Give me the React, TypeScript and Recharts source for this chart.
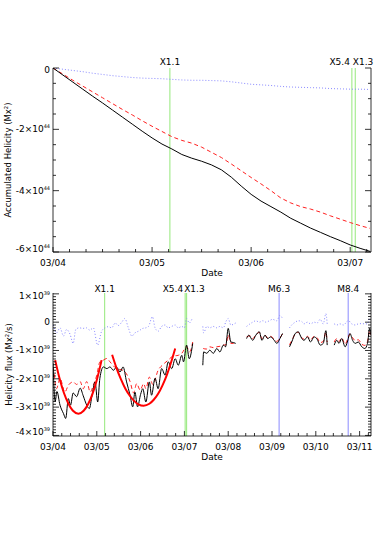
import { LineChart, Line, XAxis, YAxis, ReferenceLine } from 'recharts';

// tick labels
const dateLabels = ['03/04', '03/05', '03/06', '03/07', '03/08', '03/09', '03/10', '03/11'];

// top panel: accumulated helicity, units of 1e44 Mx^2, days since 03/04 00:00
const accDays = [0, 0.1, 0.2, 0.3, 0.4, 0.5, 0.6, 0.7, 0.8, 0.9, 1.0, 1.1, 1.2, 1.3, 1.4, 1.5, 1.6, 1.7, 1.8, 1.9, 2.0, 2.1, 2.2, 2.3, 2.4, 2.5, 2.6, 2.7, 2.8, 2.9, 3.0, 3.1, 3.2];
const accBlack = [0, -0.23, -0.46, -0.69, -0.92, -1.14, -1.37, -1.6, -1.83, -2.06, -2.28, -2.48, -2.64, -2.82, -2.94, -3.04, -3.16, -3.32, -3.56, -3.85, -4.12, -4.34, -4.52, -4.7, -4.9, -5.06, -5.22, -5.36, -5.5, -5.63, -5.77, -5.88, -5.98];
const accRed = [0, -0.2, -0.4, -0.59, -0.78, -0.97, -1.16, -1.35, -1.53, -1.72, -1.9, -2.07, -2.24, -2.36, -2.45, -2.58, -2.75, -2.92, -3.13, -3.35, -3.57, -3.78, -4.0, -4.24, -4.4, -4.52, -4.6, -4.7, -4.82, -4.93, -5.04, -5.14, -5.23];
const accBlue = [0, -0.04, -0.08, -0.12, -0.17, -0.21, -0.25, -0.28, -0.31, -0.33, -0.34, -0.35, -0.37, -0.39, -0.4, -0.4, -0.41, -0.42, -0.45, -0.49, -0.53, -0.55, -0.57, -0.6, -0.62, -0.63, -0.64, -0.65, -0.67, -0.68, -0.69, -0.69, -0.7];

// bottom panel: helicity flux, units of 1e39 Mx^2/s, [day, value]; null = data gap
const fluxBlack: [number, number | null][] = [
  [0.0, -1.45], [0.05, -2.8], [0.09, -2.45], [0.16, -2.93], [0.24, -3.23], [0.29, -3.4], [0.35, -2.7], [0.4, -2.93],
  [0.46, -2.5], [0.54, -2.63], [0.62, -2.33], [0.69, -2.6], [0.77, -2.93], [0.83, -3.05], [0.89, -2.6], [0.96, -2.11],
  [1.02, -2.82], [1.07, -1.98], [1.15, -1.58], [1.23, -1.64], [1.3, -1.58], [1.38, -1.7], [1.45, -1.58], [1.53, -1.76],
  [1.6, -1.58], [1.68, -2.11], [1.76, -2.58], [1.82, -2.99], [1.87, -2.47], [1.93, -2.99], [2.0, -2.55], [2.05, -2.35],
  [2.12, -2.82], [2.2, -2.11], [2.25, -2.58], [2.33, -1.98], [2.4, -2.35], [2.48, -1.64], [2.56, -1.87], [2.63, -1.4],
  [2.71, -1.64], [2.79, -1.29], [2.86, -1.52], [2.94, -1.17], [2.98, -1.4], [3.05, -0.81], [3.11, -1.29], [3.19, -0.75],
  [3.3, null],
  [3.42, -1.52], [3.44, -1.05], [3.51, -1.1], [3.58, -0.99], [3.66, -1.1], [3.74, -0.93], [3.81, -1.05], [3.89, -0.81],
  [3.94, -0.87], [4.0, -0.22], [4.06, -0.7], [4.12, -0.72], [4.17, -0.75],
  [4.3, null],
  [4.42, -0.58], [4.47, -0.46], [4.56, -0.64], [4.63, -0.46], [4.71, -0.34], [4.77, -0.64], [4.84, -0.46], [4.9, -0.58],
  [4.97, -0.52], [5.05, -0.64], [5.11, -0.75], [5.18, -0.58], [5.24, -0.4],
  [5.32, null],
  [5.4, -0.87], [5.45, -0.7], [5.53, -0.4], [5.6, -0.34], [5.64, -0.45], [5.68, -0.58], [5.73, -0.64], [5.81, -0.52],
  [5.88, -0.7], [5.96, -0.52], [6.03, -0.6], [6.1, -0.81], [6.17, -0.75], [6.23, -0.3], [6.26, -0.81],
  [6.34, null],
  [6.42, -0.81], [6.48, -0.64], [6.53, -0.75], [6.59, -0.58], [6.67, -0.87], [6.72, -0.7], [6.78, -0.4], [6.84, -0.64],
  [6.9, -0.75], [6.97, -0.7], [7.05, -0.87], [7.12, -0.93], [7.18, -0.75], [7.23, -0.22], [7.26, -0.45],
];
const fluxRed: [number, number | null][] = [
  [0.0, -1.6], [0.02, -1.76], [0.08, -2.35], [0.16, -1.98], [0.27, -2.47], [0.35, -2.23], [0.46, -2.11], [0.54, -2.2],
  [0.62, -2.1], [0.69, -2.35], [0.77, -2.1], [0.85, -2.47], [0.92, -2.23], [1.0, -1.87], [1.07, -1.4], [1.15, -1.34],
  [1.23, -1.28], [1.3, -1.4], [1.45, -1.64], [1.6, -1.7], [1.76, -2.1], [1.84, -2.5], [1.91, -2.17], [1.99, -2.4],
  [2.07, -2.17], [2.12, -2.35], [2.2, -1.94], [2.28, -2.2], [2.4, -1.7], [2.51, -1.5], [2.63, -1.34], [2.74, -1.2],
  [2.86, -1.17], [2.94, -1.1], [3.05, -0.87], [3.12, -1.05], [3.19, -0.7],
  [3.3, null],
  [3.43, -0.93], [3.5, -0.95], [3.58, -0.87], [3.66, -0.9], [3.74, -0.87], [3.82, -0.85], [3.89, -0.81], [3.95, -0.8],
  [4.0, -0.45], [4.06, -0.75], [4.17, -0.75],
  [4.3, null],
  [4.42, -0.52], [4.5, -0.48], [4.56, -0.58], [4.63, -0.45], [4.71, -0.36], [4.77, -0.58], [4.84, -0.46], [4.9, -0.55],
  [4.97, -0.5], [5.05, -0.6], [5.11, -0.68], [5.18, -0.55], [5.24, -0.42],
  [5.32, null],
  [5.4, -0.8], [5.45, -0.65], [5.53, -0.42], [5.6, -0.36], [5.68, -0.55], [5.73, -0.6], [5.81, -0.5], [5.88, -0.62],
  [5.96, -0.5], [6.03, -0.55], [6.1, -0.72], [6.17, -0.68], [6.23, -0.35], [6.26, -0.7],
  [6.34, null],
  [6.42, -0.7], [6.48, -0.58], [6.53, -0.68], [6.59, -0.55], [6.67, -0.78], [6.72, -0.62], [6.78, -0.42], [6.84, -0.55],
  [6.9, -0.65], [6.97, -0.62], [7.05, -0.78], [7.12, -0.82], [7.18, -0.68], [7.23, -0.3], [7.26, -0.45],
];
const fluxBlue: [number, number | null][] = [
  [0.01, -0.1], [0.08, -0.38], [0.16, -0.2], [0.24, -0.49], [0.31, -0.26], [0.39, -0.43], [0.46, -0.75], [0.52, -0.26],
  [0.6, -0.2], [0.68, -0.22], [0.76, -0.2], [0.84, -0.28], [0.92, -0.2], [1.02, -0.81], [1.11, -0.32], [1.19, -0.2],
  [1.26, -0.16], [1.34, -0.2], [1.42, -0.03], [1.49, -0.12], [1.57, 0.0], [1.64, 0.13], [1.72, -0.2], [1.8, -0.49],
  [1.87, -0.38], [1.95, -0.32], [2.05, -0.22], [2.12, -0.2], [2.18, -0.15], [2.27, 0.19], [2.33, -0.2], [2.4, -0.32],
  [2.48, -0.15], [2.56, -0.1], [2.63, -0.2], [2.71, -0.15], [2.79, -0.1], [2.86, -0.2], [2.94, -0.15], [3.0, -0.2],
  [3.05, 0.13], [3.11, -0.03], [3.17, 0.1],
  [3.3, null],
  [3.42, -0.15], [3.44, -0.38], [3.51, -0.15], [3.58, -0.2], [3.66, -0.15], [3.74, -0.2], [3.81, -0.15], [3.89, -0.2],
  [3.95, 0.03], [4.0, 0.13], [4.06, -0.1], [4.17, -0.03],
  [4.3, null],
  [4.42, -0.15], [4.48, -0.08], [4.56, 0.0], [4.63, 0.05], [4.71, 0.0], [4.79, 0.05], [4.86, 0.0], [4.94, 0.05],
  [5.01, 0.1], [5.11, 0.05], [5.18, 0.24], [5.24, 0.13],
  [5.32, null],
  [5.4, -0.2], [5.45, -0.1], [5.53, 0.0], [5.6, 0.05], [5.68, 0.02], [5.73, -0.06], [5.81, 0.0], [5.88, -0.06],
  [5.96, 0.0], [6.03, -0.03], [6.1, 0.1], [6.17, -0.06], [6.23, 0.3], [6.26, -0.06],
  [6.34, null],
  [6.42, -0.06], [6.48, -0.1], [6.55, -0.06], [6.63, -0.1], [6.7, 0.0], [6.74, 0.06], [6.82, -0.06], [6.9, -0.1],
  [6.97, -0.06], [7.05, -0.05], [7.12, -0.06], [7.18, -0.06], [7.23, 0.2],
];
// the two red fitted curves
const fluxFit: [number, number | null][] = [
  [0.05, -1.34], [0.15, -1.99], [0.25, -2.5], [0.35, -2.87], [0.45, -3.12], [0.58, -3.23], [0.7, -3.13], [0.8, -2.9],
  [0.9, -2.54], [1.0, -2.04], [1.11, -1.34],
  [1.2, null],
  [1.35, -1.15], [1.45, -1.62], [1.55, -2.01], [1.65, -2.34], [1.75, -2.59], [1.85, -2.78], [1.95, -2.9], [2.07, -2.95],
  [2.2, -2.88], [2.3, -2.74], [2.4, -2.53], [2.5, -2.23], [2.6, -1.86], [2.7, -1.4], [2.79, -0.93],
];

// flares
const flareNames = ['X1.1', 'X5.4', 'X1.3', 'M6.3', 'M8.4'];
const flareDays = [1.18, 3.017, 3.051, 5.162, 6.739];

const FONT = 'DejaVu Sans, sans-serif';
const GREEN = '#94e87a';
const LBLUE = '#8a8aff';

const accData = accDays.map((d, i) => ({ d, black: accBlack[i], red: accRed[i], blue: accBlue[i] }));
const toRows = (arr: [number, number | null][], key: string) => arr.map(([d, v]) => ({ d, [key]: v }));
const blackRows = toRows(fluxBlack, 'fblack');
const redRows = toRows(fluxRed, 'fred');
const blueRows = toRows(fluxBlue, 'fblue');
const fitRows = toRows(fluxFit, 'ffit');

const range = (a: number, b: number, step: number) => {
  const out: number[] = [];
  for (let v = a; v <= b + 1e-9; v += step) out.push(Math.round(v * 1e6) / 1e6);
  return out;
};
const isMult = (v: number, m: number) => Math.abs(v / m - Math.round(v / m)) < 1e-6;

function XTick(props: any) {
  const { x, y, payload, side } = props;
  const v = payload.value;
  const major = isMult(v, 1);
  const len = major ? 5 : 3;
  const dir = side === 'bottom' ? -1 : 1;
  return (
    <g>
      <line x1={x} y1={y} x2={x} y2={y + dir * len} stroke="#000" strokeWidth={0.8} />
      {side === 'bottom' && major && (
        <text x={x} y={y + 13.5} textAnchor="middle" fontSize={9} fontFamily={FONT} fill="#000">
          {dateLabels[Math.round(v)]}
        </text>
      )}
    </g>
  );
}

function YTick(props: any) {
  const { x, y, payload, side, exp, majorStep, lo, hi } = props;
  const v = payload.value;
  const major = isMult(v, majorStep);
  const len = major ? 6 : 3;
  const dir = side === 'left' ? 1 : -1;
  let shift = 3;
  if (Math.abs(v - hi) < 1e-6) shift = 5;
  if (Math.abs(v - lo) < 1e-6) shift = 0;
  const n = Math.round(v);
  return (
    <g>
      <line x1={x} y1={y} x2={x + dir * len} y2={y} stroke="#000" strokeWidth={0.8} />
      {side === 'left' && major && (
        <text x={x - 3} y={y + shift} textAnchor="end" fontSize={9} fontFamily={FONT} fill="#000">
          {n === 0 ? '0' : `${n < 0 ? '-' : ''}${Math.abs(n)}×10`}
          {n !== 0 && (
            <tspan dy={-4} fontSize={5}>
              {exp}
            </tspan>
          )}
        </text>
      )}
    </g>
  );
}

function FlareLabel(props: any) {
  const { viewBox, name, lift } = props;
  const x = viewBox.x;
  let anchor = 'middle';
  let dx = 0;
  if (name === 'X5.4') {
    anchor = 'end';
    dx = -2;
  } else if (name === 'X1.3') {
    anchor = 'start';
    dx = -2.5;
  }
  return (
    <text x={x + dx} y={viewBox.y - lift} textAnchor={anchor} fontSize={9} fontFamily={FONT} fill="#000">
      {name}
    </text>
  );
}

function YTitle(props: any) {
  const { viewBox, text, cx } = props;
  const cy = viewBox.y + viewBox.height / 2;
  return (
    <text x={cx} y={cy} transform={`rotate(-90 ${cx} ${cy})`} textAnchor="middle" dominantBaseline="central" fontSize={8.5} fontFamily={FONT} fill="#000">
      {text}
    </text>
  );
}

function XTitle(props: any) {
  const { viewBox } = props;
  return (
    <text x={viewBox.x + viewBox.width / 2} y={viewBox.y + 24} textAnchor="middle" fontSize={9} fontFamily={FONT} fill="#000">
      Date
    </text>
  );
}

const flareColor = (name: string) => (name.startsWith('X') ? GREEN : LBLUE);

function Panel(props: any) {
  const { height, top, xMax, xStep, yLo, yHi, yMinor, exp, title, titleX, lift, axisH, children } = props;
  const xTicks = range(0, xMax, xStep);
  const yTicks = range(yLo, yHi, yMinor);
  const yDomainLo = yLo - (props.padLo || 0);
  const yDomainHi = yHi + (props.padHi || 0);
  return (
    <LineChart width={390} height={height} margin={{ top, right: 0, bottom: 0, left: 0 }}>
      <XAxis
        dataKey="d"
        type="number"
        domain={[0, xMax]}
        allowDataOverflow
        ticks={xTicks}
        interval={0}
        tickSize={0}
        tickMargin={0}
        height={axisH}
        axisLine={{ stroke: '#000', strokeWidth: 0.8 }}
        tick={(p: any) => <XTick {...p} side="bottom" />}
        label={(p: any) => <XTitle {...p} />}
      />
      <XAxis
        xAxisId="t"
        dataKey="d"
        type="number"
        orientation="top"
        domain={[0, xMax]}
        allowDataOverflow
        ticks={xTicks}
        interval={0}
        tickSize={0}
        tickMargin={0}
        height={0}
        axisLine={{ stroke: '#000', strokeWidth: 0.8 }}
        tick={(p: any) => <XTick {...p} side="top" />}
      />
      <YAxis
        type="number"
        domain={[yDomainLo, yDomainHi]}
        allowDataOverflow
        ticks={yTicks}
        interval={0}
        tickSize={0}
        tickMargin={0}
        width={53}
        axisLine={{ stroke: '#000', strokeWidth: 0.8 }}
        tick={(p: any) => <YTick {...p} side="left" exp={exp} majorStep={props.yMajor} lo={yLo} hi={yHi} />}
        label={(p: any) => <YTitle {...p} text={title} cx={titleX} />}
      />
      <YAxis
        yAxisId="r"
        type="number"
        orientation="right"
        domain={[yDomainLo, yDomainHi]}
        allowDataOverflow
        ticks={yTicks}
        interval={0}
        tickSize={0}
        tickMargin={0}
        width={19}
        axisLine={{ stroke: '#000', strokeWidth: 0.8 }}
        tick={(p: any) => <YTick {...p} side="right" exp={exp} majorStep={props.yMajor} lo={yLo} hi={yHi} />}
      />
      {flareDays
        .map((d, i) => ({ d, name: flareNames[i] }))
        .filter((f) => f.d <= xMax)
        .map((f) => (
          <ReferenceLine
            key={f.name}
            x={f.d}
            stroke={flareColor(f.name)}
            strokeWidth={1}
            label={(p: any) => <FlareLabel {...p} name={f.name} lift={lift} />}
          />
        ))}
      {children}
    </LineChart>
  );
}

export default function App() {
  return (
    <div style={{ position: 'absolute', left: 0, top: 0, width: 390, height: 552, background: '#fff' }}>
      <div style={{ position: 'absolute', left: 0, top: 0 }}>
        <Panel
          height={285}
          top={68}
          axisH={33}
          xMax={3.21}
          xStep={1 / 6}
          yLo={-6}
          yHi={0}
          padHi={0}
          yMinor={0.5}
          yMajor={2}
          exp="44"
          title="Accumulated Helicity (Mx²)"
          titleX={8}
          lift={3.5}
        >
          <Line data={accData} dataKey="blue" stroke={LBLUE} strokeWidth={1} strokeDasharray="1 2" dot={false} isAnimationActive={false} />
          <Line data={accData} dataKey="red" stroke="#ff2020" strokeWidth={1} strokeDasharray="4 3" dot={false} isAnimationActive={false} />
          <Line data={accData} dataKey="black" stroke="#000" strokeWidth={1} dot={false} isAnimationActive={false} />
        </Panel>
      </div>
      <div style={{ position: 'absolute', left: 0, top: 285 }}>
        <Panel
          height={180}
          top={8}
          axisH={29}
          xMax={7.26}
          xStep={0.2}
          yLo={-4}
          yHi={1}
          padLo={0.02}
          padHi={0.03}
          yMinor={0.1}
          yMajor={1}
          exp="39"
          title="Helicity flux (Mx²/s)"
          titleX={9}
          lift={1.5}
        >
          <Line data={blueRows} dataKey="fblue" type="monotone" stroke={LBLUE} strokeWidth={1} strokeDasharray="1 2" dot={false} isAnimationActive={false} />
          <Line data={redRows} dataKey="fred" type="monotone" stroke="#ff2020" strokeWidth={1} strokeDasharray="4 3" dot={false} isAnimationActive={false} />
          <Line data={blackRows} dataKey="fblack" type="monotone" stroke="#000" strokeWidth={1} dot={false} isAnimationActive={false} />
          <Line data={fitRows} dataKey="ffit" type="monotone" stroke="#ff0000" strokeWidth={2} dot={false} isAnimationActive={false} />
        </Panel>
      </div>
    </div>
  );
}
